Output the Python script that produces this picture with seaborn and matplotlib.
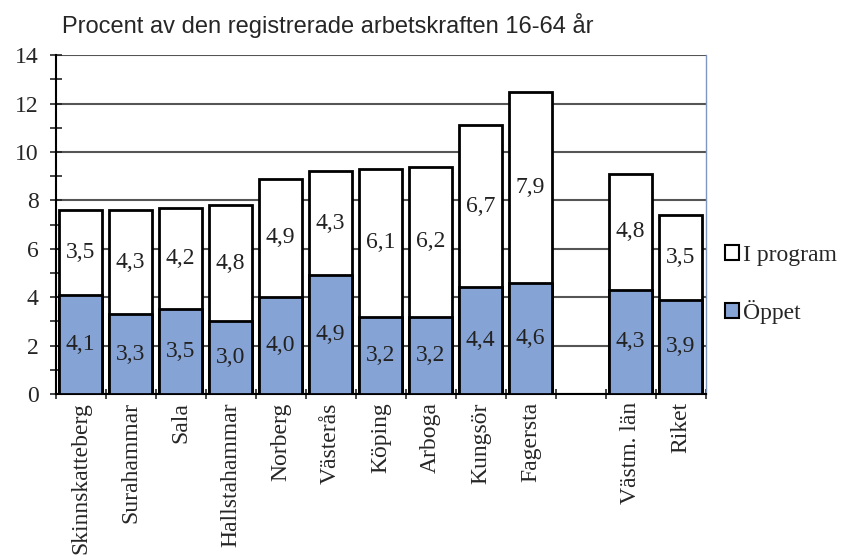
import numpy as np
import pandas as pd
import matplotlib
matplotlib.use("Agg")
import matplotlib.pyplot as plt
import matplotlib.patches as mpatches
import seaborn as sns

# data
kommuner = ['Skinnskatteberg', 'Surahammar', 'Sala', 'Hallstahammar', 'Norberg',
            'Västerås', 'Köping', 'Arboga', 'Kungsör', 'Fagersta', ' ', 'Västm. län', 'Riket']
oppet = [4.1, 3.3, 3.5, 3.0, 4.0, 4.9, 3.2, 3.2, 4.4, 4.6, np.nan, 4.3, 3.9]
i_program = [3.5, 4.3, 4.2, 4.8, 4.9, 4.3, 6.1, 6.2, 6.7, 7.9, np.nan, 4.8, 3.5]

df = pd.DataFrame({'kommun': kommuner, 'oppet': oppet, 'program': i_program})
df['total'] = df['oppet'] + df['program']
plot_df = df.dropna()

blue = '#86a3d6'
serif = 'Liberation Serif'

sns.set_style('white')
fig = plt.figure(figsize=(8.41, 5.58), dpi=100)
ax = fig.add_axes([0.066, 0.294, 0.773, 0.607])

sns.barplot(data=plot_df, x='kommun', y='total', order=kommuner, color='white',
            edgecolor='black', linewidth=2, width=0.85, ax=ax, zorder=3)
sns.barplot(data=plot_df, x='kommun', y='oppet', order=kommuner, color=blue,
            edgecolor='black', linewidth=2, width=0.85, ax=ax, zorder=4, saturation=1)

# value labels in the middle of each segment
for i, row in df.iterrows():
    if np.isnan(row['oppet']):
        continue
    ax.text(i, row['oppet'] / 2, f"{row['oppet']:.1f}".replace('.', ','),
            ha='center', va='center', fontsize=17, family=serif, color='#222222', zorder=5)
    ax.text(i, row['oppet'] + row['program'] / 2, f"{row['program']:.1f}".replace('.', ','),
            ha='center', va='center', fontsize=17, family=serif, color='#222222', zorder=5)

ax.set_ylim(0, 14)
ax.set_xlim(-0.5, len(kommuner) - 0.5)
ax.set_yticks(range(0, 15, 2))
ax.set_yticks(range(1, 15, 2), minor=True)
ax.set_xticks(np.arange(-0.5, len(kommuner), 1), minor=True)
ax.set_xticks(range(len(kommuner)))
ax.set_xticklabels(kommuner, rotation=90, fontsize=17, family=serif)
ax.set_yticklabels(range(0, 15, 2), fontsize=17, family=serif)
ax.tick_params(axis='x', which='major', bottom=True, length=0, pad=6)
ax.tick_params(axis='x', which='minor', bottom=True, length=7, direction='inout', width=1.2)
ax.tick_params(axis='y', which='both', left=True, length=8, direction='inout', width=1.2, pad=8)
ax.set_xlabel('')
ax.set_ylabel('')

ax.yaxis.grid(True, color='#555555', linewidth=1.5, zorder=0)
ax.set_axisbelow(True)
ax.spines['top'].set_visible(False)
ax.spines['left'].set_color('black')
ax.spines['left'].set_linewidth(1.5)
ax.spines['bottom'].set_color('black')
ax.spines['bottom'].set_linewidth(1.5)
ax.spines['right'].set_color('#8096c0')
ax.spines['right'].set_linewidth(1)

fig.text(0.074, 0.955, 'Procent av den registrerade arbetskraften 16-64 år',
         fontsize=17, family='Liberation Sans', ha='left', va='center')

handles = [mpatches.Patch(facecolor='white', edgecolor='black', linewidth=1.5, label='I program'),
           mpatches.Patch(facecolor=blue, edgecolor='black', linewidth=1.5, label='Öppet')]
fig.legend(handles=handles, loc='center left', bbox_to_anchor=(0.862, 0.49), frameon=False,
           prop={'family': serif, 'size': 17}, handlelength=0.6, handleheight=0.6,
           handletextpad=0.15, labelspacing=1.45, borderaxespad=0, borderpad=0)

fig.savefig('out.png', dpi=100)
